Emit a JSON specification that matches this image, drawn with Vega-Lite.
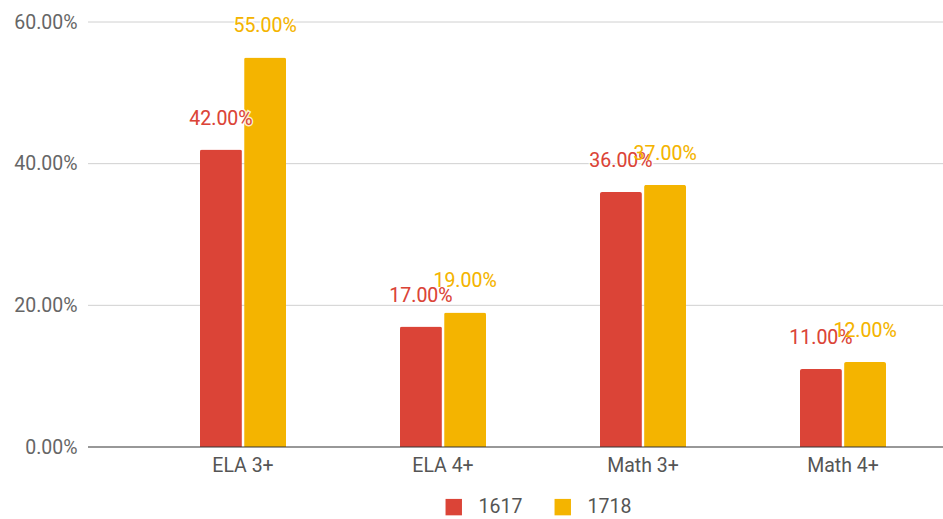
{
  "$schema": "https://vega.github.io/schema/vega-lite/v6.json",
  "width": 855,
  "height": 425,
  "autosize": {"type": "none"},
  "padding": {"left": 88, "top": 22, "right": 0, "bottom": 72},
  "background": "white",
  "config": {
    "view": {"stroke": null},
    "font": "Roboto",
    "axis": {"labelFont": "Roboto", "labelFontSize": 19.5, "labelColor": "#5f5f5f"}
  },
  "datasets": {
    "grid": [{"g": 0.2}, {"g": 0.4}, {"g": 0.6}],
    "base": [{"base": 0}]
  },
  "data": {
    "values": [
      {"cat": "ELA 3+", "year": "1617", "value": 0.42},
      {"cat": "ELA 3+", "year": "1718", "value": 0.55},
      {"cat": "ELA 4+", "year": "1617", "value": 0.17},
      {"cat": "ELA 4+", "year": "1718", "value": 0.19},
      {"cat": "Math 3+", "year": "1617", "value": 0.36},
      {"cat": "Math 3+", "year": "1718", "value": 0.37},
      {"cat": "Math 4+", "year": "1617", "value": 0.11},
      {"cat": "Math 4+", "year": "1718", "value": 0.12}
    ]
  },
  "layer": [
    {
      "data": {"name": "grid"},
      "mark": {"type": "rule", "color": "#d0d0d0", "strokeWidth": 1},
      "encoding": {"y": {"field": "g", "type": "quantitative"}, "x": {"value": 0}, "x2": {"value": 855}}
    },
    {
      "mark": {"type": "bar", "cornerRadiusTopLeft": 2, "cornerRadiusTopRight": 2},
      "encoding": {
        "x": {
          "field": "cat", "type": "nominal", "sort": null,
          "scale": {"range": [55, 855], "paddingInner": 0.57, "paddingOuter": 0.285},
          "axis": {"title": null, "labelAngle": 0, "domain": false, "ticks": false, "labelPadding": 9, "labelFontSize": 19.5, "labelColor": "#555555"}
        },
        "y": {
          "field": "value", "type": "quantitative",
          "scale": {"domain": [0, 0.6], "nice": false},
          "axis": {"title": null, "format": ".2%", "values": [0, 0.2, 0.4, 0.6], "domain": false, "ticks": false, "grid": false, "labelPadding": 11, "labelColor": "#666666", "labelFontSize": 19.5}
        },
        "xOffset": {"field": "year", "type": "nominal", "scale": {"paddingInner": 0.05}},
        "color": {
          "field": "year", "type": "nominal",
          "scale": {"domain": ["1617", "1718"], "range": ["#db4437", "#f4b400"]},
          "legend": {
            "title": null, "orient": "none", "direction": "horizontal",
            "legendX": 356, "legendY": 475,
            "symbolType": "square", "symbolSize": 270, "symbolStrokeWidth": 0,
            "labelFontSize": 19.5, "labelColor": "#555555", "labelFont": "Roboto",
            "columnPadding": 30, "labelOffset": 15
          }
        }
      }
    },
    {
      "mark": {"type": "text", "baseline": "middle", "dy": -31, "fontSize": 19.5, "font": "Roboto", "stroke": "white", "strokeWidth": 3, "strokeOpacity": 0.8},
      "encoding": {
        "x": {"field": "cat", "type": "nominal", "sort": null},
        "y": {"field": "value", "type": "quantitative"},
        "xOffset": {"field": "year", "type": "nominal"},
        "color": {"field": "year", "type": "nominal"},
        "text": {"field": "value", "type": "quantitative", "format": ".2%"}
      }
    },
    {
      "mark": {"type": "text", "baseline": "middle", "dy": -31, "fontSize": 19.5, "font": "Roboto"},
      "encoding": {
        "x": {"field": "cat", "type": "nominal", "sort": null},
        "y": {"field": "value", "type": "quantitative"},
        "xOffset": {"field": "year", "type": "nominal"},
        "color": {"field": "year", "type": "nominal"},
        "text": {"field": "value", "type": "quantitative", "format": ".2%"}
      }
    },
    {
      "data": {"name": "base"},
      "mark": {"type": "rule", "color": "#333333", "strokeWidth": 1.2},
      "encoding": {"y": {"field": "base", "type": "quantitative"}, "x": {"value": 0}, "x2": {"value": 855}}
    }
  ]
}
